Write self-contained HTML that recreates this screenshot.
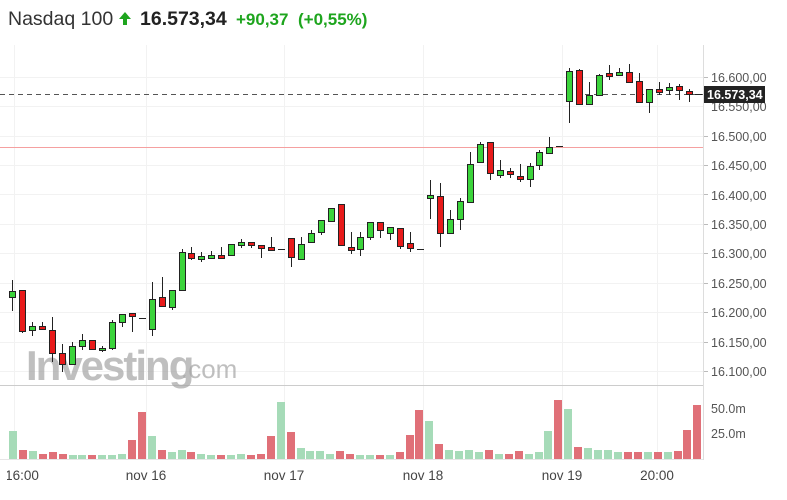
<!DOCTYPE html>
<html><head><meta charset="utf-8"><style>
html,body{margin:0;padding:0;background:#fff;width:787px;height:500px;overflow:hidden}
svg{display:block;font-family:"Liberation Sans",sans-serif}
</style></head><body>
<svg width="787" height="500" viewBox="0 0 787 500" xmlns="http://www.w3.org/2000/svg">
<!-- header -->
<text x="8" y="25" font-size="19.5" fill="#333">Nasdaq 100</text>
<path d="M123 25 v-6 h-4 l6 -7 l6 7 h-4 v6 z" fill="#1ea51e"/>
<text x="140" y="25" font-size="19.5" font-weight="bold" fill="#222">16.573,34</text>
<text x="236" y="25" font-size="17" font-weight="bold" fill="#1ea51e">+90,37</text>
<text x="298" y="25" font-size="17" font-weight="bold" fill="#1ea51e">(+0,55%)</text>
<!-- grid -->
<g stroke="#f2f2f2" stroke-width="1">
<line x1="0" x2="703" y1="77.5" y2="77.5"/><line x1="0" x2="703" y1="106.5" y2="106.5"/><line x1="0" x2="703" y1="136.5" y2="136.5"/><line x1="0" x2="703" y1="165.5" y2="165.5"/><line x1="0" x2="703" y1="194.5" y2="194.5"/><line x1="0" x2="703" y1="224.5" y2="224.5"/><line x1="0" x2="703" y1="253.5" y2="253.5"/><line x1="0" x2="703" y1="283.5" y2="283.5"/><line x1="0" x2="703" y1="312.5" y2="312.5"/><line x1="0" x2="703" y1="342.5" y2="342.5"/><line x1="0" x2="703" y1="371.5" y2="371.5"/>
<line x1="14.5" x2="14.5" y1="45" y2="460"/><line x1="146.5" x2="146.5" y1="45" y2="460"/><line x1="284.5" x2="284.5" y1="45" y2="460"/><line x1="423.5" x2="423.5" y1="45" y2="460"/><line x1="562.5" x2="562.5" y1="45" y2="460"/><line x1="657.5" x2="657.5" y1="45" y2="460"/>
</g>
<line x1="703.5" x2="703.5" y1="45" y2="460" stroke="#ddd"/>
<line x1="0" x2="703" y1="385.5" y2="385.5" stroke="#ccc"/>
<line x1="0" x2="703" y1="459.5" y2="459.5" stroke="#e6e6e6"/>
<!-- watermark -->
<text x="26" y="380" font-size="42" font-weight="bold" fill="#a5a5a5" opacity="0.7" letter-spacing="-2">Investing</text>
<text x="181" y="378" font-size="26" fill="#a5a5a5" opacity="0.7">.com</text>
<!-- lines -->
<line x1="0" x2="703" y1="147.5" y2="147.5" stroke="#f5a0a0"/>
<line x1="0" x2="703" y1="94.5" y2="94.5" stroke="#555" stroke-dasharray="5,4"/>
<!-- candles -->
<g stroke="#222" stroke-width="1">
<line x1="12.5" x2="12.5" y1="280" y2="311"/><rect x="9.5" y="291.5" width="6" height="6" fill="#3bd43b"/>
<line x1="22.5" x2="22.5" y1="290" y2="333"/><rect x="19.5" y="290.5" width="6" height="41" fill="#e81a1a"/>
<line x1="32.5" x2="32.5" y1="322" y2="336"/><rect x="29.5" y="326.5" width="6" height="4" fill="#3bd43b"/>
<line x1="42.5" x2="42.5" y1="322" y2="330"/><rect x="39.5" y="326.5" width="6" height="3" fill="#e81a1a"/>
<line x1="52.5" x2="52.5" y1="317" y2="362"/><rect x="49.5" y="330.5" width="6" height="23" fill="#e81a1a"/>
<line x1="62.5" x2="62.5" y1="344" y2="372"/><rect x="59.5" y="353.5" width="6" height="11" fill="#e81a1a"/>
<line x1="72.5" x2="72.5" y1="342" y2="364"/><rect x="69.5" y="346.5" width="6" height="18" fill="#3bd43b"/>
<line x1="82.5" x2="82.5" y1="334" y2="350"/><rect x="79.5" y="340.5" width="6" height="6" fill="#3bd43b"/>
<line x1="92.5" x2="92.5" y1="340" y2="349"/><rect x="89.5" y="340.5" width="6" height="9" fill="#e81a1a"/>
<line x1="102.5" x2="102.5" y1="346" y2="352"/><rect x="99.5" y="348.5" width="6" height="2" fill="#3bd43b"/>
<line x1="112.5" x2="112.5" y1="320" y2="350"/><rect x="109.5" y="322.5" width="6" height="26" fill="#3bd43b"/>
<line x1="122.5" x2="122.5" y1="314" y2="327"/><rect x="119.5" y="314.5" width="6" height="8" fill="#3bd43b"/>
<line x1="132.5" x2="132.5" y1="313" y2="332"/><rect x="129.5" y="313.5" width="6" height="3" fill="#e81a1a"/>
<line x1="139" x2="146" y1="318.5" y2="318.5"/>
<line x1="152.5" x2="152.5" y1="282" y2="336"/><rect x="149.5" y="299.5" width="6" height="30" fill="#3bd43b"/>
<line x1="162.5" x2="162.5" y1="277" y2="306"/><rect x="159.5" y="297.5" width="6" height="9" fill="#e81a1a"/>
<line x1="172.5" x2="172.5" y1="290" y2="310"/><rect x="169.5" y="290.5" width="6" height="17" fill="#3bd43b"/>
<line x1="182.5" x2="182.5" y1="249" y2="290"/><rect x="179.5" y="252.5" width="6" height="38" fill="#3bd43b"/>
<line x1="191.5" x2="191.5" y1="247" y2="260"/><rect x="188.5" y="253.5" width="6" height="5" fill="#e81a1a"/>
<line x1="201.5" x2="201.5" y1="252" y2="262"/><rect x="198.5" y="256.5" width="6" height="3" fill="#3bd43b"/>
<line x1="211.5" x2="211.5" y1="251" y2="258"/><rect x="208.5" y="255.5" width="6" height="3" fill="#3bd43b"/>
<line x1="221.5" x2="221.5" y1="247" y2="258"/><rect x="218.5" y="255.5" width="6" height="3" fill="#e81a1a"/>
<line x1="231.5" x2="231.5" y1="244" y2="255"/><rect x="228.5" y="244.5" width="6" height="11" fill="#3bd43b"/>
<line x1="241.5" x2="241.5" y1="239" y2="248"/><rect x="238.5" y="242.5" width="6" height="3" fill="#3bd43b"/>
<line x1="251.5" x2="251.5" y1="242" y2="248"/><rect x="248.5" y="242.5" width="6" height="3" fill="#e81a1a"/>
<line x1="261.5" x2="261.5" y1="245" y2="258"/><rect x="258.5" y="245.5" width="6" height="3" fill="#e81a1a"/>
<line x1="271.5" x2="271.5" y1="237" y2="250"/><rect x="268.5" y="247.5" width="6" height="3" fill="#e81a1a"/>
<line x1="278" x2="285" y1="249.5" y2="249.5"/>
<line x1="291.5" x2="291.5" y1="238" y2="267"/><rect x="288.5" y="238.5" width="6" height="19" fill="#e81a1a"/>
<line x1="301.5" x2="301.5" y1="237" y2="259"/><rect x="298.5" y="244.5" width="6" height="15" fill="#3bd43b"/>
<line x1="311.5" x2="311.5" y1="230" y2="243"/><rect x="308.5" y="233.5" width="6" height="9" fill="#3bd43b"/>
<line x1="321.5" x2="321.5" y1="220" y2="235"/><rect x="318.5" y="220.5" width="6" height="12" fill="#3bd43b"/>
<line x1="331.5" x2="331.5" y1="208" y2="221"/><rect x="328.5" y="208.5" width="6" height="13" fill="#3bd43b"/>
<line x1="341.5" x2="341.5" y1="204" y2="245"/><rect x="338.5" y="204.5" width="6" height="41" fill="#e81a1a"/>
<line x1="351.5" x2="351.5" y1="232" y2="254"/><rect x="348.5" y="247.5" width="6" height="3" fill="#e81a1a"/>
<line x1="360.5" x2="360.5" y1="232" y2="256"/><rect x="357.5" y="237.5" width="6" height="12" fill="#3bd43b"/>
<line x1="370.5" x2="370.5" y1="222" y2="240"/><rect x="367.5" y="222.5" width="6" height="15" fill="#3bd43b"/>
<line x1="380.5" x2="380.5" y1="222" y2="238"/><rect x="377.5" y="222.5" width="6" height="8" fill="#e81a1a"/>
<line x1="390.5" x2="390.5" y1="227" y2="240"/><rect x="387.5" y="227.5" width="6" height="6" fill="#3bd43b"/>
<line x1="400.5" x2="400.5" y1="228" y2="249"/><rect x="397.5" y="228.5" width="6" height="18" fill="#e81a1a"/>
<line x1="410.5" x2="410.5" y1="232" y2="252"/><rect x="407.5" y="243.5" width="6" height="5" fill="#e81a1a"/>
<line x1="417" x2="424" y1="249.5" y2="249.5"/>
<line x1="430.5" x2="430.5" y1="180" y2="219"/><rect x="427.5" y="195.5" width="6" height="3" fill="#3bd43b"/>
<line x1="440.5" x2="440.5" y1="183" y2="247"/><rect x="437.5" y="196.5" width="6" height="37" fill="#e81a1a"/>
<line x1="450.5" x2="450.5" y1="210" y2="233"/><rect x="447.5" y="219.5" width="6" height="14" fill="#3bd43b"/>
<line x1="460.5" x2="460.5" y1="198" y2="230"/><rect x="457.5" y="201.5" width="6" height="18" fill="#3bd43b"/>
<line x1="470.5" x2="470.5" y1="152" y2="202"/><rect x="467.5" y="164.5" width="6" height="38" fill="#3bd43b"/>
<line x1="480.5" x2="480.5" y1="142" y2="163"/><rect x="477.5" y="144.5" width="6" height="18" fill="#3bd43b"/>
<line x1="490.5" x2="490.5" y1="142" y2="180"/><rect x="487.5" y="142.5" width="6" height="31" fill="#e81a1a"/>
<line x1="500.5" x2="500.5" y1="160" y2="178"/><rect x="497.5" y="170.5" width="6" height="5" fill="#3bd43b"/>
<line x1="510.5" x2="510.5" y1="168" y2="178"/><rect x="507.5" y="171.5" width="6" height="3" fill="#e81a1a"/>
<line x1="520.5" x2="520.5" y1="164" y2="182"/><rect x="517.5" y="176.5" width="6" height="3" fill="#e81a1a"/>
<line x1="530.5" x2="530.5" y1="163" y2="187"/><rect x="527.5" y="166.5" width="6" height="13" fill="#3bd43b"/>
<line x1="539.5" x2="539.5" y1="150" y2="170"/><rect x="536.5" y="152.5" width="6" height="13" fill="#3bd43b"/>
<line x1="549.5" x2="549.5" y1="137" y2="153"/><rect x="546.5" y="147.5" width="6" height="6" fill="#3bd43b"/>
<line x1="556" x2="563" y1="146.5" y2="146.5"/>
<line x1="569.5" x2="569.5" y1="68" y2="123"/><rect x="566.5" y="71.5" width="6" height="30" fill="#3bd43b"/>
<line x1="579.5" x2="579.5" y1="69" y2="104"/><rect x="576.5" y="70.5" width="6" height="34" fill="#e81a1a"/>
<line x1="589.5" x2="589.5" y1="82" y2="105"/><rect x="586.5" y="95.5" width="6" height="9" fill="#3bd43b"/>
<line x1="599.5" x2="599.5" y1="74" y2="96"/><rect x="596.5" y="75.5" width="6" height="20" fill="#3bd43b"/>
<line x1="609.5" x2="609.5" y1="65" y2="80"/><rect x="606.5" y="73.5" width="6" height="3" fill="#e81a1a"/>
<line x1="619.5" x2="619.5" y1="68" y2="76"/><rect x="616.5" y="72.5" width="6" height="3" fill="#3bd43b"/>
<line x1="629.5" x2="629.5" y1="64" y2="83"/><rect x="626.5" y="72.5" width="6" height="10" fill="#e81a1a"/>
<line x1="639.5" x2="639.5" y1="73" y2="102"/><rect x="636.5" y="81.5" width="6" height="21" fill="#e81a1a"/>
<line x1="649.5" x2="649.5" y1="89" y2="113"/><rect x="646.5" y="89.5" width="6" height="13" fill="#3bd43b"/>
<line x1="659.5" x2="659.5" y1="82" y2="95"/><rect x="656.5" y="89.5" width="6" height="3" fill="#e81a1a"/>
<line x1="669.5" x2="669.5" y1="83" y2="95"/><rect x="666.5" y="87.5" width="6" height="3" fill="#3bd43b"/>
<line x1="679.5" x2="679.5" y1="84" y2="100"/><rect x="676.5" y="86.5" width="6" height="4" fill="#e81a1a"/>
<line x1="689.5" x2="689.5" y1="89" y2="102"/><rect x="686.5" y="91.5" width="6" height="3" fill="#e81a1a"/>
<line x1="695" x2="702" y1="94.5" y2="94.5"/>
</g>
<!-- volume -->
<g>
<rect x="9" y="431" width="8" height="28" fill="#a6dbb8"/><rect x="19" y="450" width="8" height="9" fill="#e07078"/><rect x="29" y="451" width="8" height="8" fill="#a6dbb8"/><rect x="39" y="454" width="8" height="5" fill="#e07078"/><rect x="49" y="452" width="8" height="7" fill="#e07078"/><rect x="59" y="454" width="8" height="5" fill="#e07078"/><rect x="69" y="455" width="8" height="4" fill="#a6dbb8"/><rect x="78" y="455" width="8" height="4" fill="#a6dbb8"/><rect x="88" y="455" width="8" height="4" fill="#e07078"/><rect x="98" y="455" width="8" height="4" fill="#a6dbb8"/><rect x="108" y="455" width="8" height="4" fill="#a6dbb8"/><rect x="118" y="454" width="8" height="5" fill="#a6dbb8"/><rect x="128" y="440" width="8" height="19" fill="#e07078"/><rect x="138" y="412" width="8" height="47" fill="#e07078"/><rect x="148" y="436" width="8" height="23" fill="#a6dbb8"/><rect x="158" y="450" width="8" height="9" fill="#e07078"/><rect x="168" y="452" width="8" height="7" fill="#a6dbb8"/><rect x="178" y="450" width="8" height="9" fill="#a6dbb8"/><rect x="187" y="452" width="8" height="7" fill="#e07078"/><rect x="197" y="454" width="8" height="5" fill="#a6dbb8"/><rect x="207" y="455" width="8" height="4" fill="#a6dbb8"/><rect x="217" y="455" width="8" height="4" fill="#e07078"/><rect x="227" y="455" width="8" height="4" fill="#a6dbb8"/><rect x="237" y="454" width="8" height="5" fill="#a6dbb8"/><rect x="247" y="455" width="8" height="4" fill="#e07078"/><rect x="257" y="454" width="8" height="5" fill="#e07078"/><rect x="267" y="436" width="8" height="23" fill="#e07078"/><rect x="277" y="402" width="8" height="57" fill="#a6dbb8"/><rect x="287" y="432" width="8" height="27" fill="#e07078"/><rect x="297" y="448" width="8" height="11" fill="#a6dbb8"/><rect x="306" y="451" width="8" height="8" fill="#a6dbb8"/><rect x="316" y="451" width="8" height="8" fill="#a6dbb8"/><rect x="326" y="454" width="8" height="5" fill="#a6dbb8"/><rect x="336" y="451" width="8" height="8" fill="#e07078"/><rect x="346" y="454" width="8" height="5" fill="#e07078"/><rect x="356" y="455" width="8" height="4" fill="#a6dbb8"/><rect x="366" y="455" width="8" height="4" fill="#a6dbb8"/><rect x="376" y="455" width="8" height="4" fill="#e07078"/><rect x="386" y="455" width="8" height="4" fill="#a6dbb8"/><rect x="396" y="452" width="8" height="7" fill="#e07078"/><rect x="406" y="435" width="8" height="24" fill="#e07078"/><rect x="415" y="410" width="8" height="49" fill="#e07078"/><rect x="425" y="421" width="8" height="38" fill="#a6dbb8"/><rect x="435" y="444" width="8" height="15" fill="#e07078"/><rect x="445" y="450" width="8" height="9" fill="#a6dbb8"/><rect x="455" y="451" width="8" height="8" fill="#a6dbb8"/><rect x="465" y="450" width="8" height="9" fill="#a6dbb8"/><rect x="475" y="452" width="8" height="7" fill="#a6dbb8"/><rect x="485" y="450" width="8" height="9" fill="#e07078"/><rect x="495" y="454" width="8" height="5" fill="#a6dbb8"/><rect x="505" y="454" width="8" height="5" fill="#e07078"/><rect x="515" y="451" width="8" height="8" fill="#e07078"/><rect x="525" y="454" width="8" height="5" fill="#a6dbb8"/><rect x="535" y="452" width="8" height="7" fill="#a6dbb8"/><rect x="544" y="431" width="8" height="28" fill="#a6dbb8"/><rect x="554" y="400" width="8" height="59" fill="#e07078"/><rect x="564" y="409" width="8" height="50" fill="#a6dbb8"/><rect x="574" y="447" width="8" height="12" fill="#e07078"/><rect x="584" y="448" width="8" height="11" fill="#a6dbb8"/><rect x="594" y="450" width="8" height="9" fill="#a6dbb8"/><rect x="604" y="450" width="8" height="9" fill="#a6dbb8"/><rect x="614" y="452" width="8" height="7" fill="#a6dbb8"/><rect x="624" y="452" width="8" height="7" fill="#e07078"/><rect x="634" y="452" width="8" height="7" fill="#e07078"/><rect x="644" y="452" width="8" height="7" fill="#a6dbb8"/><rect x="654" y="452" width="8" height="7" fill="#e07078"/><rect x="664" y="452" width="8" height="7" fill="#a6dbb8"/><rect x="674" y="451" width="8" height="8" fill="#e07078"/><rect x="683" y="430" width="8" height="29" fill="#e07078"/><rect x="693" y="405" width="8" height="54" fill="#e07078"/>
</g>
<!-- y axis labels -->
<g font-size="12.5" fill="#555">
<text x="711" y="82">16.600,00</text><text x="711" y="141">16.500,00</text><text x="711" y="170">16.450,00</text><text x="711" y="200">16.400,00</text><text x="711" y="229">16.350,00</text><text x="711" y="258">16.300,00</text><text x="711" y="288">16.250,00</text><text x="711" y="317">16.200,00</text><text x="711" y="347">16.150,00</text><text x="711" y="376">16.100,00</text>
<text x="711" y="413">50.0m</text><text x="711" y="438">25.0m</text>
</g>
<g stroke="#bbb"><line x1="704" x2="708" y1="77.5" y2="77.5"/><line x1="704" x2="708" y1="136.5" y2="136.5"/><line x1="704" x2="708" y1="165.5" y2="165.5"/><line x1="704" x2="708" y1="194.5" y2="194.5"/><line x1="704" x2="708" y1="224.5" y2="224.5"/><line x1="704" x2="708" y1="253.5" y2="253.5"/><line x1="704" x2="708" y1="283.5" y2="283.5"/><line x1="704" x2="708" y1="312.5" y2="312.5"/><line x1="704" x2="708" y1="342.5" y2="342.5"/><line x1="704" x2="708" y1="371.5" y2="371.5"/></g>
<text x="711" y="111" font-size="12.5" fill="#555">16.550,00</text>
<rect x="704" y="86" width="61" height="17" fill="#222"/>
<text x="707" y="99" font-size="12.5" font-weight="bold" fill="#fff">16.573,34</text>
<!-- x axis labels -->
<g font-size="13.5" fill="#444" text-anchor="middle">
<text x="22" y="480">16:00</text><text x="146" y="480">nov 16</text><text x="284" y="480">nov 17</text><text x="423" y="480">nov 18</text><text x="562" y="480">nov 19</text><text x="657" y="480">20:00</text>
</g>
<rect x="0" y="462" width="7" height="25" fill="#fff"/>
</svg>
</body></html>
